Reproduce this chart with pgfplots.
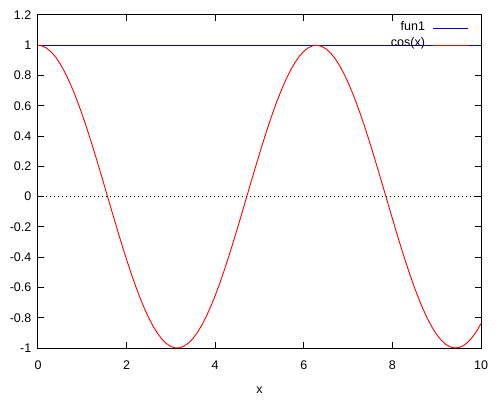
\documentclass[border=0pt]{standalone}
\usepackage{pgfplots}
\pgfplotsset{compat=1.18}
\usepackage{fontspec}
\setmainfont{Liberation Sans}
\definecolor{gpblue}{RGB}{0,0,210}
\definecolor{gpred}{RGB}{255,0,0}
\begin{document}
\fontsize{12.5bp}{15bp}\selectfont
\begin{tikzpicture}
\path[use as bounding box] (-38bp,-55bp) rectangle (462bp,348bp);
\begin{axis}[
  at={(0,0)}, anchor=south west,
  scale only axis, width=443bp, height=333bp,
  xmin=0, xmax=10, ymin=-1, ymax=1.2,
  xtick={0,2,4,6,8,10},
  xticklabels={0,2,4,6,8,10},
  ytick={-1,-0.8,-0.6,-0.4,-0.2,0,0.2,0.4,0.6,0.8,1,1.2},
  yticklabels={-1,-0.8,-0.6,-0.4,-0.2,0,0.2,0.4,0.6,0.8,1,1.2},
  tick align=inside, major tick length=6bp,
  xtick pos=both, ytick pos=both,
  axis line style={black, line width=1bp},
  tick style={black, line width=1bp},
  xticklabel style={anchor=base, yshift=-21bp, inner sep=0pt},
  yticklabel style={anchor=east, inner sep=0pt, xshift=-6.5bp},
  xlabel={x},
  xlabel style={at={(rel axis cs:0.5,0)}, anchor=base, yshift=-45bp, inner sep=0pt},
  legend plot pos=right,
  legend cell align=right,
  legend image code/.code={\draw[#1] (0bp,0bp) -- (35bp,0bp);},
  legend style={draw=none, fill=none, inner sep=0pt, outer sep=0pt,
    at={(rel axis cs:1,1)}, anchor=north east, xshift=-13bp, yshift=-6bp,
    column sep=7bp, row sep=0pt,
    nodes={inner sep=0pt, text height=10bp, text depth=6bp}},
]
\addplot[gpblue, line width=1bp] coordinates {(0,1) (10,1)};
\addlegendentry{fun1}
\addplot[gpred, line width=0.9bp] coordinates {
(0.0,1.0000) (0.1,0.9950) (0.2,0.9801) (0.3,0.9553) (0.4,0.9211)
(0.5,0.8776) (0.6,0.8253) (0.7,0.7648) (0.8,0.6967) (0.9,0.6216)
(1.0,0.5403) (1.1,0.4536) (1.2,0.3624) (1.3,0.2675) (1.4,0.1700)
(1.5,0.0707) (1.6,-0.0292) (1.7,-0.1288) (1.8,-0.2272) (1.9,-0.3233)
(2.0,-0.4161) (2.1,-0.5048) (2.2,-0.5885) (2.3,-0.6663) (2.4,-0.7374)
(2.5,-0.8011) (2.6,-0.8569) (2.7,-0.9041) (2.8,-0.9422) (2.9,-0.9710)
(3.0,-0.9900) (3.1,-0.9991) (3.2,-0.9983) (3.3,-0.9875) (3.4,-0.9668)
(3.5,-0.9365) (3.6,-0.8968) (3.7,-0.8481) (3.8,-0.7910) (3.9,-0.7259)
(4.0,-0.6536) (4.1,-0.5748) (4.2,-0.4903) (4.3,-0.4008) (4.4,-0.3073)
(4.5,-0.2108) (4.6,-0.1122) (4.7,-0.0124) (4.8,0.0875) (4.9,0.1865)
(5.0,0.2837) (5.1,0.3780) (5.2,0.4685) (5.3,0.5544) (5.4,0.6347)
(5.5,0.7087) (5.6,0.7756) (5.7,0.8347) (5.8,0.8855) (5.9,0.9275)
(6.0,0.9602) (6.1,0.9833) (6.2,0.9965) (6.3,0.9999) (6.4,0.9932)
(6.5,0.9766) (6.6,0.9502) (6.7,0.9144) (6.8,0.8694) (6.9,0.8157)
(7.0,0.7539) (7.1,0.6845) (7.2,0.6084) (7.3,0.5261) (7.4,0.4385)
(7.5,0.3466) (7.6,0.2513) (7.7,0.1534) (7.8,0.0540) (7.9,-0.0460)
(8.0,-0.1455) (8.1,-0.2435) (8.2,-0.3392) (8.3,-0.4314) (8.4,-0.5193)
(8.5,-0.6020) (8.6,-0.6787) (8.7,-0.7486) (8.8,-0.8111) (8.9,-0.8654)
(9.0,-0.9111) (9.1,-0.9477) (9.2,-0.9748) (9.3,-0.9922) (9.4,-0.9997)
(9.5,-0.9972) (9.6,-0.9847) (9.7,-0.9624) (9.8,-0.9304) (9.9,-0.8892)
(10.0,-0.8391)
};
\addlegendentry{cos(x)}
\addplot[black, line width=0.8bp, dash pattern=on 1bp off 3bp, forget plot] coordinates {(0,0) (10,0)};
\end{axis}
\end{tikzpicture}
\end{document}
